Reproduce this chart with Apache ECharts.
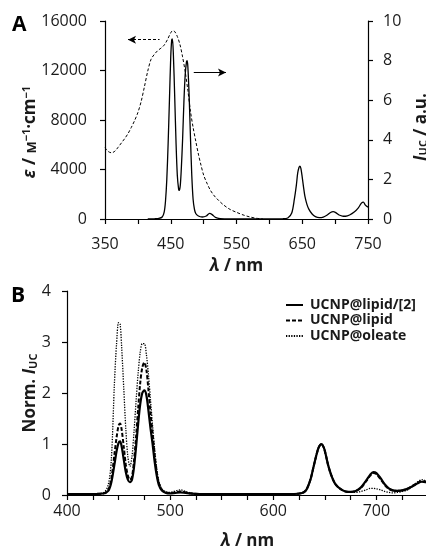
<!DOCTYPE html>
<html><head><meta charset="utf-8">
<script src="https://cdn.jsdelivr.net/npm/echarts@6/dist/echarts.min.js"></script>
<style>html,body{margin:0;padding:0;background:#fff}#c{width:426px;height:553px}</style>
</head><body><div id="c"></div>
<script>
// Panel A: absorption (epsilon, left axis)
const absWl  = [350,355,360,365,370,375,380,385,390,395,400,405,410,415,420,425,430,435,440,445,450,453,456,460,464,468,472,476,480,484,488,492,496,500,505,510,515,520,530,540,550,560,570,580,590];
const absEps = [5760,5450,5350,5480,5800,6150,6500,6900,7400,7950,8600,9500,10700,11950,12900,13300,13600,13800,14050,14500,15050,15220,15150,14750,14100,13100,11900,10400,8700,7400,6300,5250,4350,3550,2900,2350,1950,1650,1150,780,540,330,170,60,10];
// Panel A: upconversion intensity (right axis)
const ucWlA  = [415,425,432,437,440,442,444,446,448,450,451.5,452.5,454,456,458,460,462,463,464.5,466,468,470,472,474,475,476,478,480,482,484,486,488,492,498,504,509,513,518,525,540,560,580,600,620,628,634,638,641,643,645,646.5,648,650,652,654,657,660,665,670,676,682,688,693,697,701,706,711,716,722,729,735,740,743,746,750];
const ucIntA = [0,0.01,0.03,0.1,0.35,0.9,2.0,3.8,6.0,8.2,9.05,9.1,8.3,6.2,3.9,2.2,1.5,1.45,1.7,2.5,4.0,5.9,7.3,7.95,8.0,7.7,6.2,4.1,2.2,1.0,0.5,0.28,0.15,0.1,0.15,0.28,0.22,0.08,0.02,0,0,0,0,0.01,0.05,0.3,1.0,1.7,2.3,2.6,2.67,2.55,2.1,1.6,1.15,0.75,0.5,0.25,0.12,0.07,0.1,0.2,0.33,0.37,0.32,0.2,0.15,0.14,0.2,0.35,0.55,0.8,0.85,0.7,0.6];
// Arrow annotations (data coordinates)
const arrowAbs = [[385,14490],[433,14490]];
const arrowUc  = [[485,7.4],[534,7.4]];
// Panel B: normalized upconversion spectra
const wlB = [400,420,435,440,443,446,448,450,451.5,453,455,457,459,461,463,465,467,469,471,473,475,477,479,481,483,485,487,489,492,496,500,505,510,515,520,530,560,600,620,628,632,636,639,642,644,646.5,649,651,653,656,660,665,670,675,680,685,690,694,697,700,704,708,712,716,720,725,730,735,740,744,748,750];
const lipid2 = [0.02,0.02,0.03,0.08,0.25,0.6,0.85,1.02,1.05,0.95,0.7,0.45,0.3,0.25,0.3,0.55,0.95,1.4,1.78,2.0,2.05,1.95,1.65,1.3,1.0,0.65,0.38,0.2,0.09,0.04,0.03,0.04,0.05,0.04,0.03,0.02,0.02,0.02,0.02,0.04,0.1,0.3,0.55,0.8,0.93,1.0,0.93,0.78,0.6,0.4,0.22,0.12,0.07,0.06,0.08,0.15,0.28,0.4,0.45,0.43,0.33,0.21,0.13,0.09,0.08,0.09,0.12,0.17,0.23,0.26,0.25,0.24];
const lipid  = [0.02,0.02,0.03,0.1,0.32,0.8,1.12,1.36,1.4,1.28,0.95,0.6,0.38,0.3,0.36,0.68,1.15,1.7,2.2,2.5,2.6,2.45,2.05,1.6,1.2,0.78,0.45,0.24,0.1,0.05,0.04,0.05,0.07,0.05,0.03,0.02,0.02,0.02,0.02,0.04,0.1,0.3,0.55,0.8,0.93,1.0,0.93,0.78,0.6,0.4,0.22,0.12,0.07,0.06,0.08,0.14,0.27,0.38,0.43,0.41,0.31,0.2,0.12,0.09,0.08,0.09,0.12,0.18,0.24,0.27,0.26,0.25];
const oleate = [0.02,0.02,0.04,0.2,0.7,2.2,2.95,3.38,3.35,2.9,2.1,1.3,0.75,0.56,0.75,1.25,1.85,2.4,2.8,2.97,2.97,2.75,2.35,1.85,1.35,0.9,0.52,0.28,0.12,0.06,0.05,0.08,0.1,0.07,0.04,0.02,0.02,0.02,0.02,0.04,0.1,0.3,0.55,0.8,0.93,1.0,0.93,0.78,0.6,0.4,0.22,0.12,0.07,0.05,0.05,0.07,0.1,0.13,0.13,0.12,0.1,0.07,0.05,0.04,0.05,0.07,0.1,0.17,0.26,0.3,0.28,0.27];
const seriesNamesB = ['UCNP@lipid/[2]','UCNP@lipid','UCNP@oleate'];

const zip = (xs, ys) => xs.map((x, i) => [x, ys[i]]);
const FONT = 'Open Sans';
const TXT = '#1a1a1a';
const axisLine = {show: true, lineStyle: {color: '#000', width: 1.2}};
const axisTick = {show: true, length: 5, lineStyle: {color: '#000', width: 1.2}};
const tickLabel = (m) => ({color: TXT, fontSize: 16, fontFamily: FONT, margin: m, formatter: v => String(v)});
const titleRich = {
  i: {fontStyle: 'italic', fontWeight: 'bold', fontSize: 17, fontFamily: FONT, fill: TXT, color: TXT},
  s: {fontSize: 13, fontWeight: 'bold', fontFamily: FONT, fill: TXT, color: TXT, verticalAlign: 'bottom'},
  p: {fontSize: 11, fontWeight: 'bold', fontFamily: FONT, fill: TXT, color: TXT, verticalAlign: 'top'},
  b: {fontSize: 11, fontWeight: 'bold', fontFamily: FONT, fill: TXT, color: TXT, verticalAlign: 'bottom'}
};

const chart = echarts.init(document.getElementById('c'), null, {renderer: 'canvas'});
chart.setOption({
  animation: false,
  backgroundColor: '#fff',
  textStyle: {fontFamily: FONT},
  grid: [
    {left: 105, top: 21, width: 263, height: 198, containLabel: false, outerBoundsMode: 'none'},
    {left: 67, top: 291, width: 361, height: 204, containLabel: false, outerBoundsMode: 'none'}
  ],
  xAxis: [
    {type: 'value', gridIndex: 0, min: 350, max: 750, interval: 50,
     axisLine, axisTick, splitLine: {show: false},
     axisLabel: Object.assign(tickLabel(17), {formatter: v => (v % 100 === 50 ? String(v) : '')}),
     name: '{i|λ} / nm', nameLocation: 'middle', nameGap: 39, nameMoveOverlap: false,
     nameTextStyle: {color: TXT, fontSize: 17, fontWeight: 'bold', fontFamily: FONT, rich: titleRich}},
    {type: 'value', gridIndex: 1, min: 400, max: 750, interval: 25,
     axisLine, axisTick, splitLine: {show: false},
     axisLabel: Object.assign(tickLabel(8), {formatter: v => (v % 100 === 0 && v < 750 ? String(v) : '')}),
     name: '{i|λ} / nm', nameLocation: 'middle', nameGap: 38, nameMoveOverlap: false,
     nameTextStyle: {color: TXT, fontSize: 17, fontWeight: 'bold', fontFamily: FONT, rich: titleRich}}
  ],
  yAxis: [
    {type: 'value', gridIndex: 0, min: 0, max: 16000, interval: 4000, position: 'left',
     axisLine, axisTick, splitLine: {show: false}, axisLabel: tickLabel(18)},
    {type: 'value', gridIndex: 0, min: 0, max: 10, interval: 2, position: 'right',
     axisLine, axisTick, splitLine: {show: false}, axisLabel: tickLabel(15)},
    {type: 'value', gridIndex: 1, min: 0, max: 4, interval: 1,
     axisLine, axisTick, splitLine: {show: false}, axisLabel: tickLabel(16),
     name: 'Norm. {i|I}{b|UC}', nameLocation: 'middle', nameGap: 28, nameMoveOverlap: false,
     nameTextStyle: {color: TXT, fontSize: 17, fontWeight: 'bold', fontFamily: FONT, rich: titleRich}}
  ],
  legend: {
    data: seriesNamesB, orient: 'vertical', left: 280, top: 293,
    itemWidth: 17, itemHeight: 14, itemGap: 1.5,
    itemStyle: {opacity: 0},
    textStyle: {color: TXT, fontSize: 14, fontWeight: 'bold', fontFamily: FONT, padding: [0, 0, 0, 2]}
  },
  graphic: [
    {type: 'text', left: 12, top: 15, style: {text: 'A', fontSize: 21, fontWeight: 'bold', fontFamily: FONT, fill: '#000'}},
    {type: 'text', left: 11, top: 286, style: {text: 'B', fontSize: 21, fontWeight: 'bold', fontFamily: FONT, fill: '#000'}},
    {type: 'text', x: 30, y: 132, rotation: Math.PI / 2,
     style: {text: '{i|ε} / {s|M}{p|−1}·cm{p|−1}', rich: titleRich, fontSize: 17, fontWeight: 'bold',
             fontFamily: FONT, fill: TXT, align: 'center', verticalAlign: 'middle'}},
    {type: 'text', x: 421, y: 127, rotation: Math.PI / 2,
     style: {text: '{i|I}{b|UC} / a.u.', rich: titleRich, fontSize: 17, fontWeight: 'bold',
             fontFamily: FONT, fill: TXT, align: 'center', verticalAlign: 'middle'}}
  ],
  series: [
    {name: 'abs', type: 'line', xAxisIndex: 0, yAxisIndex: 0, data: zip(absWl, absEps),
     showSymbol: false, smooth: 0.3, lineStyle: {color: '#000', width: 1, type: [3, 2]},
     markLine: {silent: true, symbol: ['arrow', 'none'], symbolSize: [6, 8], label: {show: false},
       lineStyle: {color: '#000', width: 1, type: [3, 2]},
       data: [[{coord: arrowAbs[0]}, {coord: arrowAbs[1]}]]}},
    {name: 'uc', type: 'line', xAxisIndex: 0, yAxisIndex: 1, data: zip(ucWlA, ucIntA),
     showSymbol: false, smooth: 0.3, lineStyle: {color: '#000', width: 1.3, type: 'solid'},
     markLine: {silent: true, symbol: ['none', 'arrow'], symbolSize: [6, 8], label: {show: false},
       lineStyle: {color: '#000', width: 1.2, type: 'solid'},
       data: [[{coord: arrowUc[0]}, {coord: arrowUc[1]}]]}},
    {name: seriesNamesB[2], type: 'line', xAxisIndex: 1, yAxisIndex: 2, data: zip(wlB, oleate),
     showSymbol: false, smooth: 0.3, itemStyle: {color: '#000'},
     lineStyle: {color: '#000', width: 1.3, type: [1.3, 1.3]}},
    {name: seriesNamesB[1], type: 'line', xAxisIndex: 1, yAxisIndex: 2, data: zip(wlB, lipid),
     showSymbol: false, smooth: 0.3, itemStyle: {color: '#000'},
     lineStyle: {color: '#000', width: 2, type: [4, 2]}},
    {name: seriesNamesB[0], type: 'line', xAxisIndex: 1, yAxisIndex: 2, data: zip(wlB, lipid2),
     showSymbol: false, smooth: 0.3, itemStyle: {color: '#000'},
     lineStyle: {color: '#000', width: 2.2, type: 'solid'}}
  ]
});
</script>
</body></html>
